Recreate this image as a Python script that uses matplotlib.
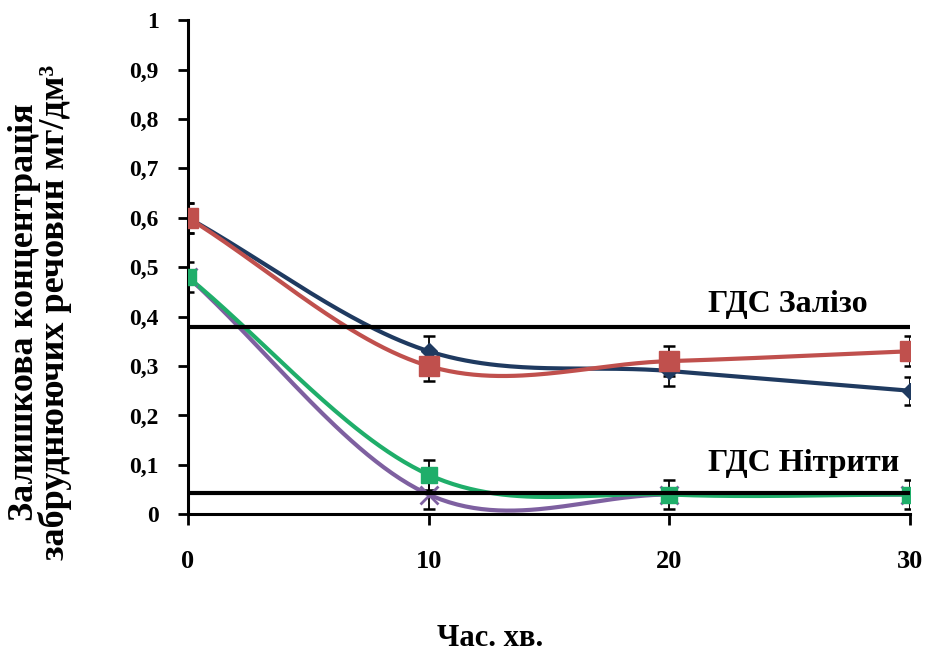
import numpy as np
import matplotlib
matplotlib.use("Agg")
import matplotlib.pyplot as plt
from matplotlib.ticker import FuncFormatter

plt.rcParams["font.family"] = ["Liberation Serif", "DejaVu Serif"]
plt.rcParams["font.weight"] = "bold"

# data
time_min = [0, 10, 20, 30]
iron_1 = [0.60, 0.33, 0.29, 0.25]
iron_2 = [0.60, 0.30, 0.31, 0.33]
nitr_1 = [0.48, 0.08, 0.04, 0.04]
nitr_2 = [0.48, 0.04, 0.04, 0.04]
err_iron_1 = [0.03, 0.03, 0.03, 0.028]
err_iron_2 = [0.03, 0.03, 0.03, 0.03]
err_nitr_1 = [0.03, 0.03, 0.03, 0.03]
err_nitr_2 = [0.0, 0.03, 0.0, 0.0]
gds_iron = 0.38
gds_nitr = 0.043


def smooth(x, y, n=60):
    # catmull-rom, like excel smoothed line
    x = np.asarray(x, float)
    y = np.asarray(y, float)
    px = np.concatenate([[2 * x[0] - x[1]], x, [2 * x[-1] - x[-2]]])
    py = np.concatenate([[2 * y[0] - y[1]], y, [2 * y[-1] - y[-2]]])
    xs, ys = [], []
    t = np.linspace(0, 1, n)
    for i in range(1, len(px) - 2):
        for p, out in ((px, xs), (py, ys)):
            p0, p1, p2, p3 = p[i - 1], p[i], p[i + 1], p[i + 2]
            m1 = (p2 - p0) / 2
            m2 = (p3 - p1) / 2
            h00 = 2 * t**3 - 3 * t**2 + 1
            h10 = t**3 - 2 * t**2 + t
            h01 = -2 * t**3 + 3 * t**2
            h11 = t**3 - t**2
            out.extend(h00 * p1 + h10 * m1 + h01 * p2 + h11 * m2)
    return np.array(xs), np.array(ys)


fig, ax = plt.subplots(figsize=(9.26, 6.51), dpi=100)
plt.subplots_adjust(left=0.203, right=0.983, bottom=0.21, top=0.969)

series = [
    (iron_1, err_iron_1, "#1F3A60", "D", 8.5),
    (iron_2, err_iron_2, "#C0504D", "s", 15),
    (nitr_2, err_nitr_2, "#7E60A0", "x", 13),
    (nitr_1, err_nitr_1, "#1FAE6A", "s", 12),
]
for vals, err, col, mk, ms in series:
    sx, sy = smooth(time_min, vals)
    ax.plot(sx, sy, color=col, lw=3, zorder=2)
    ax.errorbar(time_min, vals, yerr=err, fmt="none", ecolor="black",
                elinewidth=1.3, capsize=4.5, capthick=1.8, zorder=3)
    ax.plot(time_min, vals, linestyle="none", marker=mk, color=col,
            markersize=ms, markeredgewidth=2 if mk == "x" else 1, zorder=4)

ax.plot([0, 29.9], [gds_iron, gds_iron], color="black", lw=3, zorder=5)
ax.plot([0, 29.9], [gds_nitr, gds_nitr], color="black", lw=3, zorder=5)
ax.text(21.6, gds_iron + 0.016, "ГДС Залізо", ha="left", va="bottom",
        fontsize=23, fontweight="bold")
ax.text(21.6, gds_nitr + 0.03, "ГДС Нітрити", ha="left", va="bottom",
        fontsize=23, fontweight="bold")

ax.set_xlim(0, 30)
ax.set_ylim(0, 1)
ax.set_xticks(time_min)
ax.set_yticks(np.round(np.arange(0, 1.01, 0.1), 1))
ax.yaxis.set_major_formatter(FuncFormatter(
    lambda v, p: "0" if v == 0 else ("1" if v == 1 else f"{v:.1f}".replace(".", ","))))
ax.tick_params(axis="y", direction="out", length=7, width=2, labelsize=17, pad=14)
ax.tick_params(axis="x", direction="out", length=8, width=2, labelsize=19, pad=18)
for lab in ax.get_xticklabels() + ax.get_yticklabels():
    lab.set_fontweight("bold")

for s in ("top", "right"):
    ax.spines[s].set_visible(False)
for s in ("left", "bottom"):
    ax.spines[s].set_linewidth(2.2)

fig.text(40 / 926, 1 - 312 / 651,
         "Залишкова концентрація\nзабруднюючих речовин мг/дм³",
         rotation=90, ha="center", va="center", fontsize=26,
         fontweight="bold", linespacing=0.9)
fig.text(490 / 926, 1 - 638 / 651, "Час. хв.", ha="center", va="center",
         fontsize=22, fontweight="bold")

fig.savefig("out.png", dpi=100)
